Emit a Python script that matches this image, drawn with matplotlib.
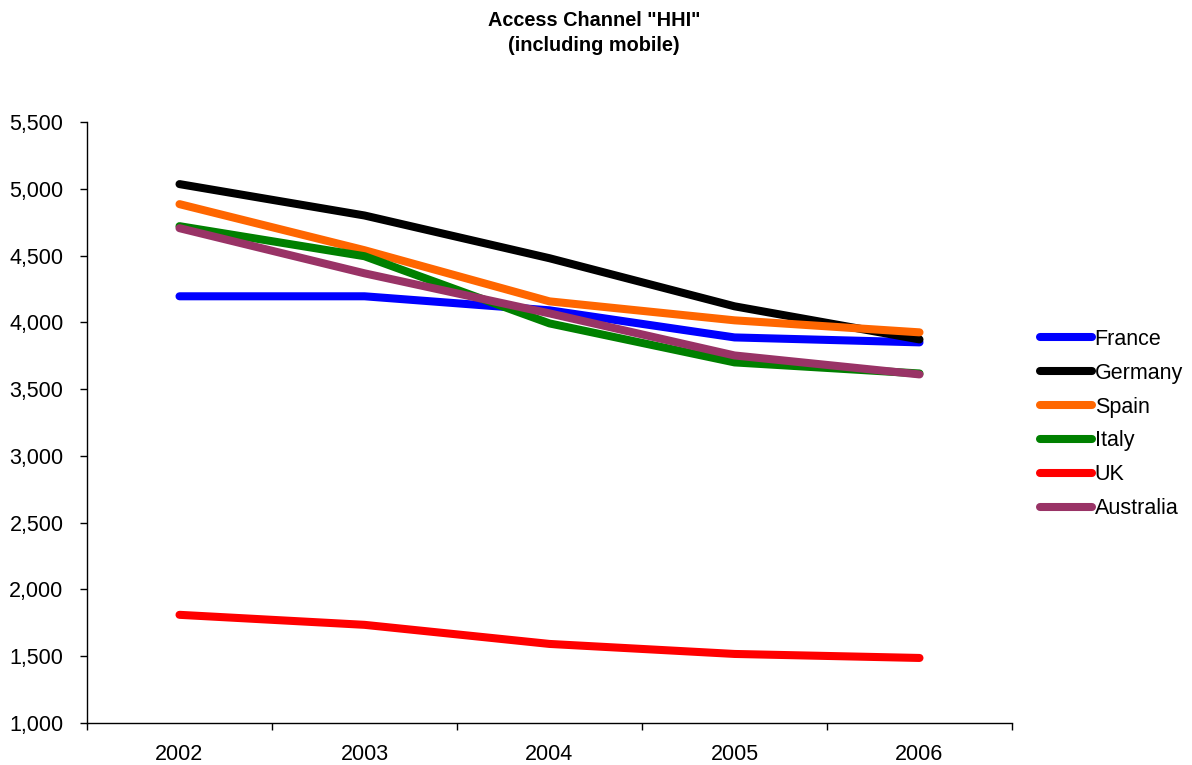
import numpy as np
import matplotlib.pyplot as plt
from matplotlib.ticker import FuncFormatter

plt.rcParams['font.family'] = ['Liberation Sans', 'DejaVu Sans']

years = ['2002', '2003', '2004', '2005', '2006']
france = [4195, 4195, 4090, 3887, 3850]
germany = [5035, 4800, 4480, 4120, 3872]
spain = [4885, 4540, 4157, 4015, 3925]
italy = [4720, 4495, 3992, 3700, 3617]
uk = [1810, 1735, 1592, 1517, 1487]
australia = [4705, 4367, 4067, 3752, 3610]

series = [
    ('France', france, '#0000ff'),
    ('Germany', germany, '#000000'),
    ('Spain', spain, '#ff6600'),
    ('Italy', italy, '#008000'),
    ('UK', uk, '#ff0000'),
    ('Australia', australia, '#993366'),
]

fig = plt.figure(figsize=(11.92, 7.65), dpi=100)
ax = fig.add_axes([87/1192, 1 - 723/765, (1012-87)/1192, (723-122)/765])

x = np.arange(len(years))
for name, vals, col in series:
    ax.plot(x, vals, color=col, lw=5.8, solid_capstyle='round',
            solid_joinstyle='round', label=name)

ax.set_ylim(1000, 5500)
ax.set_yticks(np.arange(1000, 5501, 500))
ax.yaxis.set_major_formatter(FuncFormatter(lambda v, p: f'{int(v):,}'))
ax.tick_params(axis='y', direction='out', length=5, width=1, labelsize=15.5, pad=12)

# category boundaries get the tick marks, centers get the labels
ax.set_xlim(-0.5, len(years) - 0.5)
ax.set_xticks(np.arange(-0.5, len(years)), labels=[''] * (len(years) + 1))
ax.set_xticks(x, labels=years, minor=True)
ax.tick_params(axis='x', which='major', direction='out', length=5, width=1)
ax.tick_params(axis='x', which='minor', length=0, labelsize=15.5, pad=15)

for s in ['top', 'right']:
    ax.spines[s].set_visible(False)
for s in ['left', 'bottom']:
    ax.spines[s].set_linewidth(1)

leg = ax.legend(loc='upper left', bbox_to_anchor=(1040/1192, 1 - 329/765),
                bbox_transform=fig.transFigure, frameon=False, fontsize=15.5,
                handlelength=2.42, handletextpad=0.12, labelspacing=0.595,
                borderaxespad=0, borderpad=0)

fig.text(594/1192, 1 - 11/765, 'Access Channel "HHI"\n(including mobile)',
         ha='center', va='top', fontsize=14.3, fontweight='bold', linespacing=1.4)

plt.savefig('out.png', dpi=100)
